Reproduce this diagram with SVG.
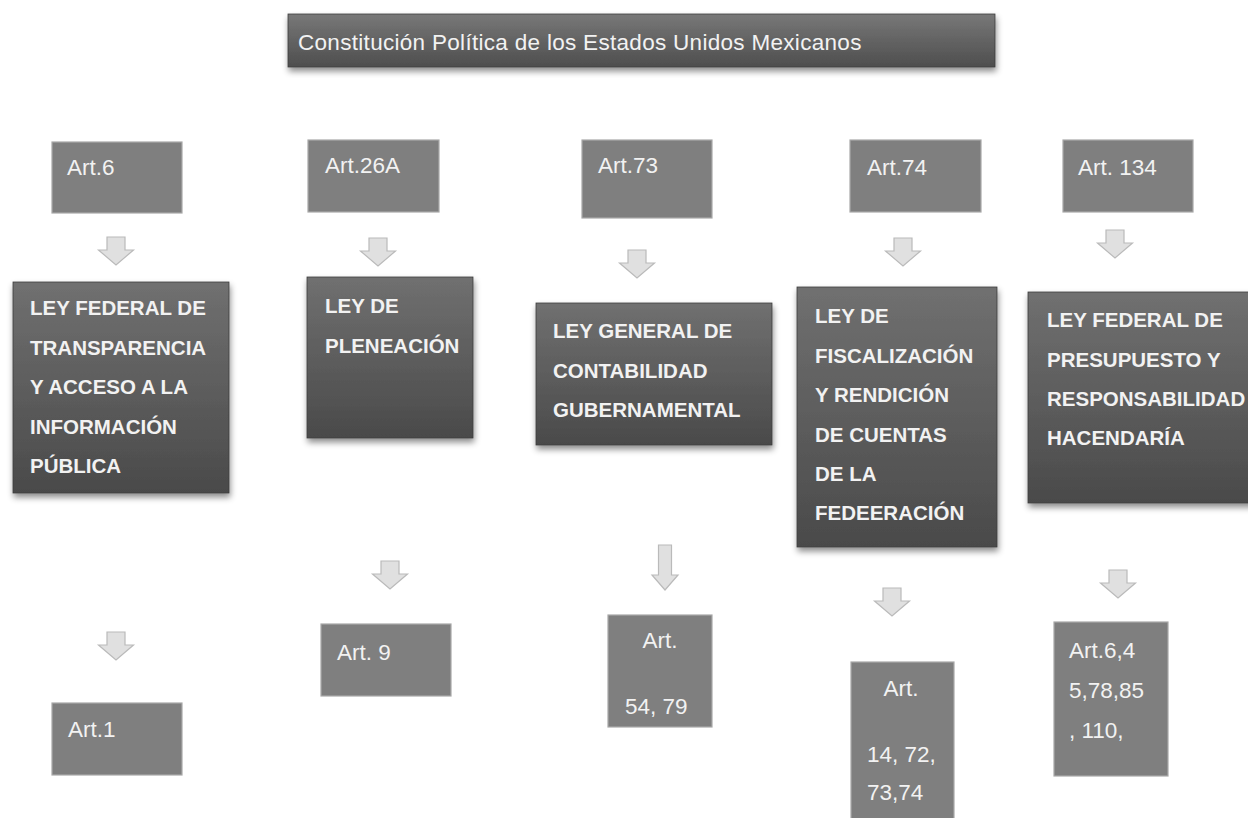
<svg xmlns="http://www.w3.org/2000/svg" xmlns:xlink="http://www.w3.org/1999/xlink" width="1248" height="818" viewBox="0 0 1248 818">
  <style>
    .small { fill: #7f7f7f; stroke: #a8a8a8; stroke-width: 1.2; }
    .big { fill: url(#gradBig); stroke: #3c3c3c; stroke-width: 0.8; filter: url(#shadow); }
    .title { fill: url(#gradTitle); stroke: #3c3c3c; stroke-width: 0.8; filter: url(#shadow); }
    .t { font-family: "Liberation Sans", Arial, sans-serif; fill: #f2f2f2; }
    .ta { font-size: 22.5px; }
    .tl { font-size: 20.5px; font-weight: bold; }
    .tt { font-size: 22.5px; letter-spacing: 0.3px; }
    .arrow { fill: #e0e0e0; stroke: #bababa; stroke-width: 1.2; }
  </style>
  <defs>
    <linearGradient id="gradBig" x1="0" y1="0" x2="0" y2="1">
      <stop offset="0" stop-color="#707070"/>
      <stop offset="1" stop-color="#4a4a4a"/>
    </linearGradient>
    <linearGradient id="gradTitle" x1="0" y1="0" x2="0" y2="1">
      <stop offset="0" stop-color="#787878"/>
      <stop offset="1" stop-color="#4e4e4e"/>
    </linearGradient>
    <filter id="shadow" x="-10%" y="-10%" width="125%" height="130%">
      <feDropShadow dx="1" dy="4" stdDeviation="3" flood-color="#000" flood-opacity="0.45"/>
    </filter>
    <path id="blk" class="arrow" d="M-9,0 H9 V13 H17.5 L0,28 L-17.5,13 H-9 Z"/>
    <path id="blkLong" class="arrow" d="M-6.5,0 H6.5 V30 H13 L0,45 L-13,30 H-6.5 Z"/>
  </defs>

  <rect width="1248" height="818" fill="#ffffff"/>

  <g id="title">
    <rect class="title" x="288" y="14" width="707" height="53"/>
    <text class="t tt" x="298" y="50">Constitución Política de los Estados Unidos Mexicanos</text>
  </g>

  <g id="connectors">
    <use xlink:href="#blk" href="#blk" x="116" y="237"/>
    <use xlink:href="#blk" href="#blk" x="378" y="238"/>
    <use xlink:href="#blk" href="#blk" x="637" y="250"/>
    <use xlink:href="#blk" href="#blk" x="903" y="238"/>
    <use xlink:href="#blk" href="#blk" x="1115" y="230"/>
    <use xlink:href="#blk" href="#blk" x="116" y="632"/>
    <use xlink:href="#blk" href="#blk" x="390" y="561"/>
    <use xlink:href="#blkLong" href="#blkLong" x="665" y="545"/>
    <use xlink:href="#blk" href="#blk" x="892" y="588"/>
    <use xlink:href="#blk" href="#blk" x="1118" y="570"/>
  </g>

  <g id="art6">
    <rect class="small" x="52" y="142" width="130" height="71"/>
    <text class="t ta" x="67" y="175">Art.6</text>
  </g>
  <g id="art26a">
    <rect class="small" x="308" y="140" width="131" height="72"/>
    <text class="t ta" x="325" y="173">Art.26A</text>
  </g>
  <g id="art73">
    <rect class="small" x="582" y="140" width="130" height="78"/>
    <text class="t ta" x="598" y="173">Art.73</text>
  </g>
  <g id="art74">
    <rect class="small" x="850" y="140" width="131" height="72"/>
    <text class="t ta" x="867" y="175">Art.74</text>
  </g>
  <g id="art134">
    <rect class="small" x="1063" y="140" width="130" height="72"/>
    <text class="t ta" x="1078" y="175">Art. 134</text>
  </g>

  <g id="ley-transparencia">
    <rect class="big" x="13" y="282" width="216" height="211"/>
    <text class="t tl" x="30" y="315">LEY FEDERAL DE</text>
    <text class="t tl" x="30" y="355">TRANSPARENCIA</text>
    <text class="t tl" x="30" y="394">Y ACCESO A LA</text>
    <text class="t tl" x="30" y="434">INFORMACIÓN</text>
    <text class="t tl" x="30" y="473">PÚBLICA</text>
  </g>
  <g id="ley-planeacion">
    <rect class="big" x="307" y="277" width="166" height="161"/>
    <text class="t tl" x="325" y="313">LEY DE</text>
    <text class="t tl" x="325" y="353">PLENEACIÓN</text>
  </g>
  <g id="ley-contabilidad">
    <rect class="big" x="536" y="303" width="236" height="142"/>
    <text class="t tl" x="553" y="338">LEY GENERAL DE</text>
    <text class="t tl" x="553" y="378">CONTABILIDAD</text>
    <text class="t tl" x="553" y="417">GUBERNAMENTAL</text>
  </g>
  <g id="ley-fiscalizacion">
    <rect class="big" x="797" y="287" width="200" height="260"/>
    <text class="t tl" x="815" y="323">LEY DE</text>
    <text class="t tl" x="815" y="363">FISCALIZACIÓN</text>
    <text class="t tl" x="815" y="402">Y RENDICIÓN</text>
    <text class="t tl" x="815" y="442">DE CUENTAS</text>
    <text class="t tl" x="815" y="481">DE LA</text>
    <text class="t tl" x="815" y="520">FEDEERACIÓN</text>
  </g>
  <g id="ley-presupuesto">
    <rect class="big" x="1028" y="292" width="226" height="211"/>
    <text class="t tl" x="1047" y="327">LEY FEDERAL DE</text>
    <text class="t tl" x="1047" y="367">PRESUPUESTO Y</text>
    <text class="t tl" x="1047" y="406">RESPONSABILIDAD</text>
    <text class="t tl" x="1047" y="445">HACENDARÍA</text>
  </g>

  <g id="art1">
    <rect class="small" x="52" y="703" width="130" height="72"/>
    <text class="t ta" x="68" y="737">Art.1</text>
  </g>
  <g id="art9">
    <rect class="small" x="321" y="624" width="130" height="72"/>
    <text class="t ta" x="337" y="660">Art. 9</text>
  </g>
  <g id="art54-79">
    <rect class="small" x="608" y="615" width="104" height="112"/>
    <text class="t ta" x="660" y="648" text-anchor="middle">Art.</text>
    <text class="t ta" x="625" y="714">54, 79</text>
  </g>
  <g id="art14-72-73-74">
    <rect class="small" x="851" y="662" width="103" height="170"/>
    <text class="t ta" x="901" y="696" text-anchor="middle">Art.</text>
    <text class="t ta" x="867" y="762">14, 72,</text>
    <text class="t ta" x="867" y="800">73,74</text>
  </g>
  <g id="art6-45-78-85-110">
    <rect class="small" x="1054" y="622" width="114" height="154"/>
    <text class="t ta" x="1069" y="658">Art.6,4</text>
    <text class="t ta" x="1069" y="698">5,78,85</text>
    <text class="t ta" x="1069" y="738">, 110,</text>
  </g>
</svg>
